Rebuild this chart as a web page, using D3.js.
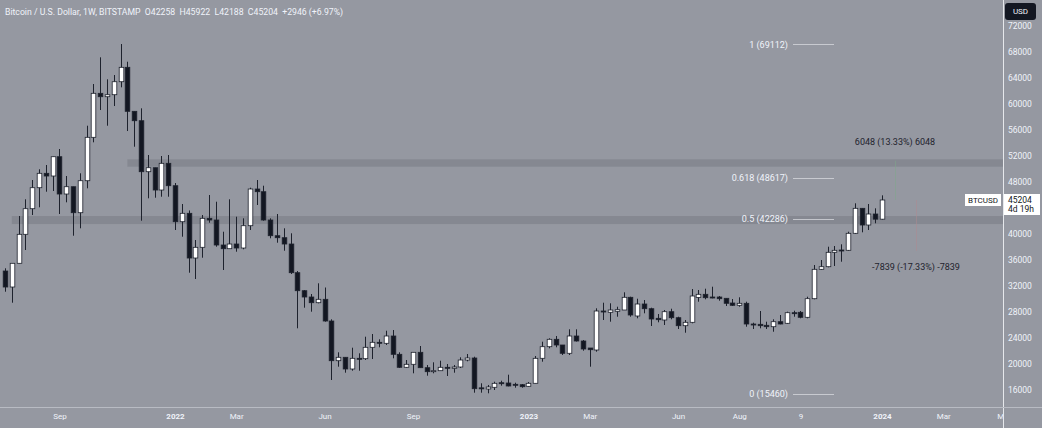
<!DOCTYPE html>
<html>
<head>
<meta charset="utf-8">
<script src="https://cdn.jsdelivr.net/npm/d3@7"></script>
<style>
  body { margin: 0; background: #9598a1; }
  svg { display: block; font-family: Roboto, "Liberation Sans", sans-serif; }
</style>
</head>
<body>
<div id="chart"></div>
<script>
// weekly candles, first week starts 2021-07-12
const firstWeek = "2021-07-12";
const opens  = [34290,31830,35474,39931,43866,47094,49307,48892,51858,46125,47247,43251,48169,54840,61603,61080,61388,63386,65599,58836,
                57391,49553,50168,46740,50844,47401,41868,43159,36288,37933,42390,42129,38287,37718,38440,37825,41253,46894,46479,42129,
                39716,39409,38440,34029,31262,30294,29418,29941,26605,20503,21026,19228,20872,20811,22563,23331,23178,24300,21487,19489,
                19950,21794,19428,18813,18966,19489,19335,19535,20611,20918,16330,16154,16415,17120,17076,16876,16815,16569,17030,20872,
                22655,23793,22917,21641,24300,23531,22455,22148,28142,27943,28096,28296,30248,27374,29218,28496,27020,26759,28035,27113,
                25883,26405,30233,30709,30294,30294,30094,29372,29018,29326,26144,26098,25944,25729,26498,26252,27881,27943,27174,30033,
                34551,34951,37165,37518,37472,40085,43927,41360,43051,42258];
const highs  = [34706,35474,42744,45311,48277,49922,50583,51858,53042,48892,47247,49307,56623,63032,67136,63755,64416,69180,66460,58836,
                59297,52120,50168,51966,52120,47816,44588,43600,39055,42898,45972,44942,40331,45311,42636,42390,47094,48277,47401,42390,
                43051,40853,40085,34290,31370,30755,32400,31754,26867,21794,21026,22502,21641,24192,24607,23793,25114,25222,21794,20611,
                21794,22763,19843,20257,20503,19996,19843,21026,21533,21118,17030,16769,17276,17429,18352,17122,16922,17230,21226,23424,
                23946,24300,22917,25330,25330,23685,22455,28557,29418,29326,28803,31017,30340,30033,29833,28650,27681,28296,28496,27266,
                26759,31524,31370,31570,31877,30448,30094,29987,30248,29572,26344,28142,26498,26867,27528,28035,28188,28142,30340,35212,
                35981,38025,38133,38394,40331,44696,43927,44588,43927,45922];
const lows   = [31109,29418,35474,37518,42898,44081,46479,46586,43051,44849,39716,40853,47001,54071,59036,56623,59649,62525,55808,53395,
                42021,45464,45557,45710,45710,40592,39562,34029,33061,36335,41714,38025,34444,37718,37257,37626,40592,44435,42021,39316,
                38640,37410,33829,25483,28650,28035,29326,26498,17537,19581,18659,18966,18966,20611,20765,22563,22917,20872,19381,19381,
                18567,19428,18198,18567,18966,18152,18659,19381,20411,15585,15585,15493,16000,16661,16560,16354,16354,16507,17030,20350,
                22409,22563,21380,21380,23450,22040,19581,21887,26759,26498,27266,28296,27266,27020,27789,25837,26405,25990,26867,25376,
                24807,26252,29572,29941,30094,29725,28911,28911,28803,25729,25376,25483,25376,24960,26098,26144,27266,27020,27020,29941,
                34444,34859,35059,35720,37364,39977,40238,40592,41622,42188];
const closes = [31830,35474,39931,43866,47094,49307,48892,51858,46125,47247,43251,48169,54840,61603,61080,61388,63386,65599,58836,57391,
                49553,50168,46740,50844,47401,41868,43159,36288,37933,42390,42129,38287,37718,38440,37825,41253,46894,46479,42129,39716,
                39409,38440,34029,31262,30294,29418,29941,26605,20503,21026,19228,20872,20811,22563,23331,23178,24300,21487,19489,19950,
                21794,19428,18813,18966,19489,19335,19535,20611,20918,16200,16250,16461,17030,16968,16615,16722,16507,17030,20872,22655,
                23793,22917,21641,24300,23531,22302,22194,28142,28035,28296,28342,30248,27528,29218,28496,26913,26805,28035,27113,25883,
                26405,30448,30709,30187,30140,30033,29326,29018,29326,26144,25990,25883,25729,26498,26144,27881,27789,27174,30033,34551,
                34951,37165,37472,37410,40085,43927,41360,43051,42258,45204];

const priceTicks = [16000,20000,24000,28000,32000,36000,40000,48000,52000,56000,60000,64000,68000,72000];
const tickDates  = ["2021-09-06","2022-01-03","2022-03-07","2022-06-06","2022-09-05","2023-01-02","2023-03-06",
                    "2023-06-05","2023-08-07","2023-10-09","2024-01-01","2024-03-04","2024-05-06"];
const tickLabels = ["Sep","2022","Mar","Jun","Sep","2023","Mar","Jun","Aug","9","2024","Mar","May"];

const fibRatios = ["1","0.618","0.5","0"];
const fibPrices = [69112,48617,42286,15460];

const zoneLow   = [50320,41510];
const zoneHigh  = [51460,42740];
const zoneStart = ["2021-11-15","2021-07-19"];

const headerParts = ["Bitcoin / U.S. Dollar, 1W, BITSTAMP", "O42258", "H45922", "L42188", "C45204", "+2946 (+6.97%)"];
const lastPrice = 45204;
const countdown = "4d 19h";
const upMove = {from: 45204, to: 51252, text: "6048 (13.33%) 6048"};
const downMove = {from: 45204, to: 37365, text: "-7839 (-17.33%) -7839"};

//------------------------------------------------------------------
const width = 1042, height = 428;
const plotRight = 1003, plotBottom = 407;
const bg = "#9598a1", light = "#f0f3fa", dark = "#131722";

const parse = d3.utcParse("%Y-%m-%d");
const start = parse(firstWeek);
const candles = opens.map(function(o, i) {
    return {date: d3.utcDay.offset(start, 7 * i), o: o, h: highs[i], l: lows[i], c: closes[i]};
});

const x = d3.scaleUtc()
    .domain([candles[0].date, candles[candles.length - 1].date])
    .range([5, 882]);
const y = d3.scaleLinear().domain([16000, 68000]).range([390, 51.7]);

const svg = d3.select("#chart").append("svg")
    .attr("width", width).attr("height", height);

svg.append("rect").attr("width", width).attr("height", height).attr("fill", bg);

svg.append("clipPath").attr("id", "plot")
    .append("rect").attr("width", plotRight).attr("height", plotBottom);

const plot = svg.append("g").attr("clip-path", "url(#plot)");

// zones
plot.selectAll(".zone").data(zoneLow).enter().append("rect")
    .attr("x", (d, i) => x(parse(zoneStart[i])))
    .attr("y", (d, i) => y(zoneHigh[i]))
    .attr("width", (d, i) => plotRight - x(parse(zoneStart[i])))
    .attr("height", (d, i) => y(d) - y(zoneHigh[i]))
    .attr("fill", "#80838c")
    .attr("opacity", 0.75);

// fib levels
fibPrices.forEach(function(p, i) {
    plot.append("text")
        .attr("x", 788).attr("y", y(p)).attr("dy", "0.35em")
        .attr("text-anchor", "end")
        .attr("font-size", 9).attr("fill", light)
        .text(fibRatios[i] + " (" + p + ")");
    plot.append("line")
        .attr("x1", 793).attr("x2", 834)
        .attr("y1", Math.round(y(p)) + 0.5).attr("y2", Math.round(y(p)) + 0.5)
        .attr("stroke", "#d9dbe0").attr("stroke-width", 1).attr("opacity", 0.75);
});

// measurement lines
plot.append("line").attr("x1", 895.5).attr("x2", 895.5)
    .attr("y1", y(upMove.from)).attr("y2", y(upMove.to))
    .attr("stroke", "#7fa88a").attr("stroke-width", 1).attr("opacity", 0.5);
plot.append("line").attr("x1", 916.5).attr("x2", 916.5)
    .attr("y1", y(downMove.from)).attr("y2", y(downMove.to))
    .attr("stroke", "#b08a90").attr("stroke-width", 1).attr("opacity", 0.5);
plot.append("text").attr("x", 895).attr("y", 142).attr("dy", "0.35em")
    .attr("text-anchor", "middle").attr("font-size", 9).attr("fill", "#1e222d")
    .text(upMove.text);
plot.append("text").attr("x", 916).attr("y", 267).attr("dy", "0.35em")
    .attr("text-anchor", "middle").attr("font-size", 9).attr("fill", "#1e222d")
    .text(downMove.text);

// candles
const bodyW = 4.6;
const c = plot.selectAll(".candle").data(candles).enter().append("g");
c.append("line")
    .attr("x1", d => Math.round(x(d.date)) + 0.5)
    .attr("x2", d => Math.round(x(d.date)) + 0.5)
    .attr("y1", d => y(d.h)).attr("y2", d => y(d.l))
    .attr("stroke", "#1e222d").attr("stroke-width", 1);
c.append("rect")
    .attr("x", d => Math.round(x(d.date)) + 0.5 - bodyW / 2)
    .attr("y", d => y(Math.max(d.o, d.c)))
    .attr("width", bodyW)
    .attr("height", d => Math.max(1, Math.abs(y(d.o) - y(d.c))))
    .attr("fill", d => d.c >= d.o ? "#ffffff" : dark)
    .attr("stroke", "#1e222d").attr("stroke-width", 0.8);

// axes lines
svg.append("line").attr("x1", plotRight + 0.5).attr("x2", plotRight + 0.5)
    .attr("y1", 0).attr("y2", height).attr("stroke", "#e6e8ec");
svg.append("line").attr("x1", 0).attr("x2", width)
    .attr("y1", plotBottom + 0.5).attr("y2", plotBottom + 0.5).attr("stroke", "#b8bbc3");

// price axis
const yaxis = svg.append("g")
    .attr("transform", "translate(" + (plotRight + 5) + ",0)")
    .call(d3.axisRight(y).tickValues(priceTicks).tickSize(0).tickFormat(d3.format("d")));
yaxis.select(".domain").remove();
yaxis.selectAll("text").attr("font-size", 8.5).attr("fill", light).attr("x", 0)
    .style("font-family", "Roboto, sans-serif");

// time axis
svg.append("clipPath").attr("id", "plotx")
    .append("rect").attr("x", 0).attr("y", 0).attr("width", plotRight).attr("height", 30);
const xaxis = svg.append("g")
    .attr("transform", "translate(0," + plotBottom + ")")
    .attr("clip-path", "url(#plotx)")
    .call(d3.axisBottom(x).tickValues(tickDates.map(parse)).tickSize(0)
        .tickFormat((d, i) => tickLabels[i]));
xaxis.select(".domain").remove();
xaxis.selectAll("text").attr("font-size", 8).attr("fill", light).attr("y", 6)
    .attr("font-weight", (d, i) => /^\d{4}$/.test(tickLabels[i]) ? "bold" : null)
    .style("font-family", "Roboto, sans-serif");

// last price labels
const ly = Math.round(y(lastPrice));
svg.append("rect").attr("x", 965).attr("y", ly - 6).attr("width", 36).attr("height", 12)
    .attr("fill", "#ffffff");
svg.append("text").attr("x", 983).attr("y", ly).attr("dy", "0.35em")
    .attr("text-anchor", "middle").attr("font-size", 8).attr("fill", dark).text("BTCUSD");
svg.append("rect").attr("x", plotRight + 1).attr("y", ly - 6).attr("width", 36).attr("height", 21)
    .attr("fill", "#ffffff");
svg.append("text").attr("x", plotRight + 5).attr("y", ly).attr("dy", "0.35em")
    .attr("font-size", 8.5).attr("fill", dark).text(lastPrice);
svg.append("text").attr("x", plotRight + 5).attr("y", ly + 9.5).attr("dy", "0.35em")
    .attr("font-size", 8.5).attr("fill", dark).text(countdown);

// USD button
svg.append("rect").attr("x", 1005).attr("y", 3).attr("width", 31).attr("height", 17).attr("rx", 3)
    .attr("fill", dark);
svg.append("text").attr("x", 1020.5).attr("y", 11.5).attr("dy", "0.35em")
    .attr("text-anchor", "middle").attr("font-size", 8).attr("fill", light).text("USD");

// header
svg.append("text").attr("x", 5).attr("y", 12).attr("dy", "0.35em")
    .attr("font-size", 8.7).attr("fill", light)
    .text(headerParts.join("\u00a0\u00a0"));
</script>
</body>
</html>
